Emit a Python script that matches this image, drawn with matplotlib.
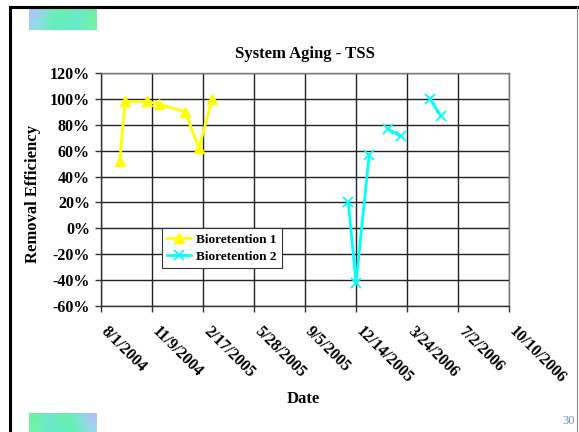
import numpy as np
import matplotlib
matplotlib.use("Agg")
import matplotlib.pyplot as plt
import matplotlib.dates as mdates
from matplotlib.lines import Line2D
from datetime import datetime

# ---- data ----
title = "System Aging - TSS"
xlabel = "Date"
ylabel = "Removal Efficiency"
series_names = ["Bioretention 1", "Bioretention 2"]

b1_dates = ["2004-09-07", "2004-09-17", "2004-10-30", "2004-11-23",
            "2005-01-13", "2005-02-09", "2005-03-07"]
b1_vals = [52, 98, 98, 96, 90, 62, 100]

b2_dates = ["2005-11-29", "2005-12-14", "2006-01-09", "2006-01-27",
            "2006-02-14", "2006-03-12", "2006-04-10", "2006-05-08", "2006-05-29"]
b2_vals = [20, -42, 57, np.nan, 77, 71, np.nan, 100, 87]

x_tick_labels = ["8/1/2004", "11/9/2004", "2/17/2005", "5/28/2005", "9/5/2005",
                 "12/14/2005", "3/24/2006", "7/2/2006", "10/10/2006"]
y_ticks = [-60, -40, -20, 0, 20, 40, 60, 80, 100, 120]

# ---- figure ----
plt.rcParams['font.family'] = ['Liberation Serif', 'DejaVu Serif']
fig = plt.figure(figsize=(5.79, 4.32), dpi=100)
fig.patch.set_facecolor("white")

# slide frame
fig.add_artist(Line2D([10/579, 10/579], [0, 1 - 7/432], transform=fig.transFigure,
                      color="black", lw=2.2))
fig.add_artist(Line2D([10/579, 578/579], [1 - 7/432, 1 - 7/432], transform=fig.transFigure,
                      color="black", lw=2.2))
fig.add_artist(Line2D([577/579, 577/579], [0, 1 - 7/432], transform=fig.transFigure,
                      color="#888888", lw=0.8))

# decorative gradient blocks
grad = np.array([[[0.72, 0.74, 0.98], [0.45, 0.92, 0.80], [0.40, 0.95, 0.62],
                  [0.45, 0.88, 0.88], [0.42, 0.95, 0.62]],
                 [[0.60, 0.85, 0.95], [0.40, 0.95, 0.70], [0.38, 0.93, 0.75],
                  [0.40, 0.92, 0.82], [0.45, 0.96, 0.66]]])
ax_g1 = fig.add_axes([29/579, 1 - 30/432, 68/579, 24/432])
ax_g1.imshow(grad, aspect="auto", interpolation="bicubic")
ax_g1.axis("off")
ax_g2 = fig.add_axes([29/579, 0, 68/579, 19/432])
ax_g2.imshow(grad[:, ::-1], aspect="auto", interpolation="bicubic")
ax_g2.axis("off")

fig.text(568.5/579, 1 - 421/432, "30", color="#6f8fb8", fontsize=9,
         ha="center", va="center")

# ---- main axes ----
ax = fig.add_axes([101/579, 1 - 306/432, 408/579, 233/432])

tick_dates = [datetime.strptime(s, "%m/%d/%Y") for s in x_tick_labels]
tick_nums = mdates.date2num(tick_dates)

d1 = mdates.date2num([datetime.strptime(s, "%Y-%m-%d") for s in b1_dates])
d2 = mdates.date2num([datetime.strptime(s, "%Y-%m-%d") for s in b2_dates])

ax.plot(d1, b1_vals, color="#FFFF00", lw=2, marker="^", markersize=7.5,
        markeredgecolor="#FFFF00", label=series_names[0], zorder=3)
ax.plot(d2, b2_vals, color="#00FFFF", lw=2, marker="x", markersize=7,
        markeredgewidth=1.3, label=series_names[1], zorder=3)

ax.set_xlim(tick_nums[0], tick_nums[-1])
ax.set_ylim(y_ticks[0], y_ticks[-1])
ax.set_xticks(tick_nums)
ax.set_xticklabels(x_tick_labels, rotation=-45, ha="left", va="baseline",
                   rotation_mode="anchor", fontsize=11.5, fontweight="bold")
ax.set_yticks(y_ticks)
ax.set_yticklabels([f"{v}%" for v in y_ticks], fontsize=11.5, fontweight="bold")

ax.grid(True, color="#222222", lw=1.0, zorder=0)
ax.set_axisbelow(True)
for side in ["top", "right"]:
    ax.spines[side].set_color("#777777")
    ax.spines[side].set_linewidth(1.0)
for side in ["left", "bottom"]:
    ax.spines[side].set_color("#333333")
    ax.spines[side].set_linewidth(1.0)
ax.tick_params(axis="both", direction="out", length=4, width=1, color="#333333")
ax.tick_params(axis="y", pad=4)
ax.tick_params(axis="x", pad=15)

ax.set_title(title, fontsize=12, fontweight="bold", pad=11)
fig.text(303/579, 1 - 399/432, xlabel, fontsize=12, fontweight="bold",
         ha="center", va="center")
fig.text(33/579, 1 - 194/432, ylabel, fontsize=12, fontweight="bold",
         ha="center", va="center", rotation=90)

leg = ax.legend(loc="upper left", bbox_to_anchor=(61/408, (306 - 228) / 233),
                prop={"weight": "bold", "size": 9.5},
                frameon=True, fancybox=False, framealpha=1, edgecolor="#333333",
                handlelength=1.8, borderpad=0.4, labelspacing=0.4,
                handletextpad=0.4, borderaxespad=0)
leg.get_frame().set_linewidth(0.8)

fig.savefig("out.png", dpi=100, facecolor="white")
